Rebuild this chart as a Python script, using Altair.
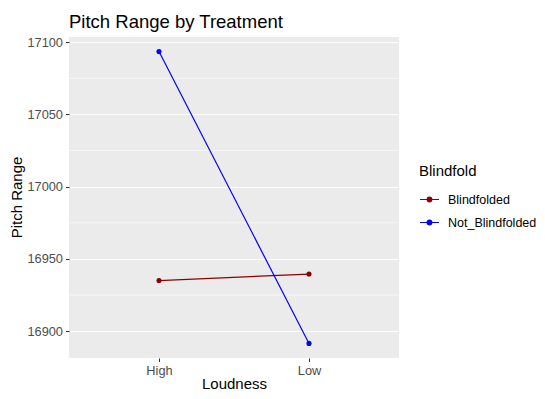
import altair as alt
import pandas as pd

loudness = ["High", "Low"]
series_names = ["Blindfolded", "Not_Blindfolded"]
blindfolded = [16935.0, 16939.5]
not_blindfolded = [17093.5, 16891.5]
y_ticks = [16900, 16950, 17000, 17050, 17100]
y_minor = [16925, 16975, 17025, 17075]
colors = ["#8B0000", "#0000FF"]

rows = []
for name, vals in zip(series_names, [blindfolded, not_blindfolded]):
    for l, v in zip(loudness, vals):
        rows.append({"Loudness": l, "Pitch": v, "Blindfold": name})
df = pd.DataFrame(rows)
minor_df = pd.DataFrame({"Pitch": y_minor})

allv = blindfolded + not_blindfolded
lo, hi = min(allv), max(allv)
pad = (hi - lo) * 0.05
ydom = [lo - pad, hi + pad]

FONT = "Liberation Sans"

yscale = alt.Scale(domain=ydom, nice=False, zero=False)
xscale = alt.Scale(type="point", padding=0.6, domain=loudness)

y_axis = alt.Axis(title="Pitch Range", values=y_ticks, format="d",
                  titleX=-53, titleY=160, titleAngle=270,
                  titleAlign="center", titleBaseline="middle")

x_enc = alt.X("Loudness:N", scale=xscale, sort=loudness,
              axis=alt.Axis(title="Loudness", labelAngle=0, titleX=165, titleY=30,
                            titleBaseline="alphabetic", titleAlign="center"))
y_enc = alt.Y("Pitch:Q", scale=yscale, axis=y_axis)

color_enc = alt.Color(
    "Blindfold:N",
    scale=alt.Scale(domain=series_names, range=colors),
    legend=alt.Legend(
        title="Blindfold", orient="none", legendX=350, legendY=127,
        symbolType="M-1,0H1M-0.24,0A0.24,0.24,0,1,0,0.24,0A0.24,0.24,0,1,0,-0.24,0Z",
        symbolSize=361, symbolStrokeWidth=1.2, labelOffset=8, rowPadding=6,
        titlePadding=10, padding=0, labelLimit=200,
    ),
)

minor = alt.Chart(minor_df).mark_rule(color="white", strokeWidth=0.6).encode(
    y=alt.Y("Pitch:Q", scale=yscale, axis=y_axis)
)

lines = alt.Chart(df).mark_line(strokeWidth=1.2).encode(
    x=x_enc, y=y_enc, color=color_enc, detail="Blindfold:N"
)
points = alt.Chart(df).mark_circle(size=26, opacity=1).encode(
    x=x_enc, y=y_enc, color=color_enc
)

chart = alt.layer(minor, lines, points).properties(
    width=330, height=321,
    autosize=alt.AutoSizeParams(type="none"),
    padding={"left": 61, "top": 29, "right": 138, "bottom": 33},
    title=alt.TitleParams("Pitch Range by Treatment", anchor="start", frame="group",
                          fontSize=18.5, fontWeight="normal", font=FONT, color="black",
                          baseline="alphabetic", offset=10, dy=20),
).configure_view(
    fill="#EBEBEB", stroke=None
).configure_axis(
    domain=False, tickColor="#333333", tickSize=3.5, tickWidth=1,
    labelColor="#4D4D4D", labelFont=FONT, labelFontSize=12.8, labelPadding=3,
    titleFont=FONT, titleFontSize=15, titleFontWeight="normal", titleColor="black",
    gridColor="white", gridWidth=1.2,
).configure_legend(
    titleFont=FONT, titleFontSize=15, titleFontWeight="normal", titleColor="black",
    labelFont=FONT, labelFontSize=12.5, labelColor="black",
)

chart.save("out.html", embed_options={"renderer": "svg", "actions": False})
